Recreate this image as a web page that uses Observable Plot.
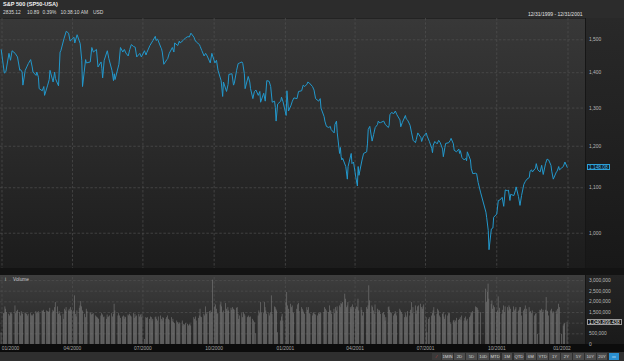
<!DOCTYPE html>
<html>
<head>
<meta charset="utf-8">
<script src="https://cdn.jsdelivr.net/npm/d3@7"></script>
<script src="https://cdn.jsdelivr.net/npm/@observablehq/plot@0.6"></script>
<style>
  html, body { margin:0; padding:0; background:#2c2c2c; }
  #root { position:relative; width:624px; height:361px; overflow:hidden; background:#2c2c2c; font-family:"Liberation Sans", Arial, sans-serif; }
  .abs { position:absolute; }
  #pricePane { left:0; top:18px; width:585px; height:250px; background:linear-gradient(#383838, #1c1c1c); border-top:1px solid #232323; box-sizing:border-box; }
  #priceAxisBg { left:585px; top:18px; width:39px; height:250px; background:linear-gradient(#292929, #181818); border-left:1px solid #161616; box-sizing:border-box; }
  #sep { left:0; top:268px; width:624px; height:7px; background:#131313; }
  #volPane { left:0; top:275px; width:585px; height:69px; background:linear-gradient(#3e3e3e, #252525); }
  #volAxisBg { left:585px; top:275px; width:39px; height:69px; background:linear-gradient(#242424, #1a1a1a); border-left:1px solid #161616; box-sizing:border-box; }
  #dateStrip { left:0; top:344px; width:624px; height:8px; background:#0c0c0c; }
  #bottomBar { left:0; top:352px; width:624px; height:9px; background:#2f2f2f; }
  #priceSvg, #volSvg { left:0; }
  #priceSvg { top:18px; }
  #volSvg { top:275px; }
  .hdr1 { left:3px; top:1px; font-weight:bold; font-size:5.6px; color:#f2f2f2; white-space:nowrap; }
  .hdr2 { top:10px; font-size:4.9px; color:#d8d8d8; white-space:nowrap; }
  .range { left:528px; top:10.5px; font-size:5px; color:#e0e0e0; white-space:nowrap; }
  .volTitle { left:13px; top:276.5px; font-size:4.8px; color:#c8c8c8; }
  .volIcon { left:5px; top:276.5px; font-size:4.8px; color:#c8c8c8; }
  .valBox { position:absolute; font-size:4.8px; line-height:5px; padding:0.5px 1px; box-sizing:border-box; white-space:nowrap; }
  #buttons { position:absolute; left:432px; top:353px; height:7px; display:flex; gap:1.3px; }
  #buttons div { height:7px; background:#4c4c4c; color:#d8d8d8; font-size:4.3px; line-height:7px; text-align:center; }
</style>
</head>
<body>
<div id="root">
  <div class="abs" id="pricePane"></div>
  <div class="abs" id="priceAxisBg"></div>
  <div class="abs" id="sep"></div>
  <div class="abs" id="volPane"></div>
  <div class="abs" id="volAxisBg"></div>
  <div class="abs" id="dateStrip"></div>
  <div class="abs" id="bottomBar"></div>
  <div class="abs hdr1">S&amp;P 500 (SP50-USA)</div>
  <div class="abs hdr2" style="left:3px">2835.12</div>
  <div class="abs hdr2" style="left:27px">10.89</div>
  <div class="abs hdr2" style="left:42.5px">0.39%</div>
  <div class="abs hdr2" style="left:60.5px">10:38:10 AM</div>
  <div class="abs hdr2" style="left:93px">USD</div>
  <div class="abs range">12/31/1999 - 12/31/2001</div>
  <div class="abs volIcon">i</div>
  <div class="abs volTitle">Volume</div>
  <div id="buttons"></div>
</div>
<script>
// ---------- data ----------
const priceTicks = [1000, 1100, 1200, 1300, 1400, 1500];
const volumeTicks = [0, 500, 1500, 2000, 2500, 3000];          // millions of shares (shown in thousands)
const volumeGrid = [500, 1000, 1500, 2000, 2500, 3000];
const quarterTicks = ["2000-01-01","2000-04-01","2000-07-01","2000-10-01","2001-01-01","2001-04-01","2001-07-01","2001-10-01","2002-01-01"];
const rangeButtons = ["1MIN","2D","5D","10D","MTD","1M","QTD","6M","YTD","1Y","2Y","5Y","10Y","20Y"];
const holidays = ["2000-01-17","2000-02-21","2000-04-21","2000-05-29","2000-07-04","2000-09-04","2000-11-23","2000-12-25",
  "2001-01-01","2001-01-15","2001-02-19","2001-04-13","2001-05-28","2001-07-04","2001-09-03","2001-09-11","2001-09-12",
  "2001-09-13","2001-09-14","2001-11-22","2001-12-25"];

// S&P 500 closes
const priceSeries = [
["1999-12-31",1469],["2000-01-04",1399],["2000-01-06",1403],["2000-01-10",1458],["2000-01-12",1437],["2000-01-14",1466],
["2000-01-18",1458],["2000-01-21",1447],["2000-01-24",1407],["2000-01-25",1409],["2000-01-27",1402],["2000-01-28",1364],
["2000-01-31",1407],["2000-02-02",1417],["2000-02-04",1427],["2000-02-07",1439],["2000-02-09",1417],["2000-02-10",1402],
["2000-02-14",1392],["2000-02-15",1402],["2000-02-17",1387],["2000-02-18",1354],["2000-02-22",1348],["2000-02-24",1360],
["2000-02-25",1335],["2000-02-29",1364],["2000-03-02",1380],["2000-03-03",1407],["2000-03-07",1373],["2000-03-09",1402],
["2000-03-10",1383],["2000-03-14",1362],["2000-03-16",1462],["2000-03-17",1466],["2000-03-21",1503],["2000-03-24",1527],
["2000-03-27",1521],["2000-03-29",1496],["2000-04-03",1508],["2000-04-04",1490],["2000-04-07",1516],["2000-04-11",1488],
["2000-04-13",1437],["2000-04-14",1360],["2000-04-18",1439],["2000-04-19",1429],["2000-04-24",1432],["2000-04-26",1476],
["2000-04-28",1462],["2000-05-02",1470],["2000-05-04",1417],["2000-05-08",1432],["2000-05-09",1412],["2000-05-10",1385],
["2000-05-12",1437],["2000-05-16",1466],["2000-05-18",1442],["2000-05-22",1407],["2000-05-24",1377],["2000-05-25",1397],
["2000-05-26",1380],["2000-05-31",1425],["2000-06-02",1476],["2000-06-05",1462],["2000-06-07",1470],["2000-06-09",1459],
["2000-06-12",1450],["2000-06-14",1470],["2000-06-16",1485],["2000-06-19",1479],["2000-06-21",1477],["2000-06-23",1447],
["2000-06-27",1458],["2000-06-29",1447],["2000-07-03",1466],["2000-07-05",1453],["2000-07-06",1460],["2000-07-10",1482],
["2000-07-12",1490],["2000-07-14",1498],["2000-07-17",1511],["2000-07-18",1498],["2000-07-20",1502],["2000-07-24",1477],
["2000-07-25",1472],["2000-07-26",1462],["2000-07-28",1425],["2000-08-01",1439],["2000-08-02",1442],["2000-08-04",1458],
["2000-08-08",1476],["2000-08-10",1462],["2000-08-11",1490],["2000-08-15",1482],["2000-08-17",1496],["2000-08-18",1490],
["2000-08-22",1498],["2000-08-25",1506],["2000-08-28",1510],["2000-08-30",1509],["2000-09-01",1521],["2000-09-05",1508],
["2000-09-06",1500],["2000-09-08",1493],["2000-09-12",1485],["2000-09-13",1479],["2000-09-15",1467],["2000-09-18",1450],
["2000-09-20",1458],["2000-09-22",1450],["2000-09-26",1429],["2000-09-28",1458],["2000-10-02",1429],["2000-10-04",1437],
["2000-10-06",1407],["2000-10-10",1377],["2000-10-12",1332],["2000-10-13",1373],["2000-10-17",1346],["2000-10-19",1366],
["2000-10-20",1395],["2000-10-24",1397],["2000-10-26",1364],["2000-10-27",1369],["2000-10-30",1407],["2000-11-01",1427],
["2000-11-03",1429],["2000-11-06",1432],["2000-11-07",1427],["2000-11-09",1397],["2000-11-10",1354],["2000-11-14",1389],
["2000-11-16",1373],["2000-11-17",1354],["2000-11-20",1326],["2000-11-22",1346],["2000-11-24",1350],["2000-11-27",1335],
["2000-11-29",1346],["2000-11-30",1316],["2000-12-04",1341],["2000-12-06",1319],["2000-12-08",1377],["2000-12-11",1375],
["2000-12-13",1360],["2000-12-15",1316],["2000-12-18",1319],["2000-12-19",1302],["2000-12-20",1265],["2000-12-22",1311],
["2000-12-26",1319],["2000-12-27",1330],["2000-12-29",1317],["2001-01-02",1280],["2001-01-03",1348],["2001-01-05",1292],
["2001-01-08",1306],["2001-01-10",1319],["2001-01-12",1328],["2001-01-16",1326],["2001-01-18",1346],["2001-01-22",1348],
["2001-01-24",1364],["2001-01-26",1360],["2001-01-29",1367],["2001-01-30",1373],["2001-02-01",1370],["2001-02-05",1360],
["2001-02-07",1350],["2001-02-09",1326],["2001-02-13",1319],["2001-02-15",1326],["2001-02-16",1300],["2001-02-20",1277],
["2001-02-21",1265],["2001-02-23",1251],["2001-02-26",1248],["2001-02-28",1251],["2001-03-01",1243],["2001-03-05",1234],
["2001-03-06",1256],["2001-03-08",1265],["2001-03-09",1234],["2001-03-12",1182],["2001-03-13",1197],["2001-03-14",1174],
["2001-03-15",1166],["2001-03-16",1170],["2001-03-20",1150],["2001-03-22",1120],["2001-03-23",1150],["2001-03-27",1182],
["2001-03-28",1157],["2001-03-30",1161],["2001-04-02",1124],["2001-04-04",1104],["2001-04-05",1150],["2001-04-06",1129],
["2001-04-10",1166],["2001-04-12",1182],["2001-04-16",1186],["2001-04-17",1206],["2001-04-18",1243],["2001-04-20",1251],
["2001-04-23",1213],["2001-04-25",1230],["2001-04-27",1248],["2001-04-30",1256],["2001-05-01",1265],["2001-05-03",1260],
["2001-05-04",1261],["2001-05-08",1265],["2001-05-10",1256],["2001-05-14",1248],["2001-05-15",1254],["2001-05-16",1282],
["2001-05-18",1288],["2001-05-21",1285],["2001-05-23",1292],["2001-05-25",1282],["2001-05-29",1268],["2001-05-30",1250],
["2001-06-01",1261],["2001-06-05",1280],["2001-06-06",1271],["2001-06-08",1267],["2001-06-11",1254],["2001-06-13",1234],
["2001-06-15",1215],["2001-06-18",1209],["2001-06-19",1217],["2001-06-21",1234],["2001-06-25",1222],["2001-06-26",1212],
["2001-06-28",1224],["2001-07-02",1234],["2001-07-03",1226],["2001-07-06",1212],["2001-07-09",1195],["2001-07-10",1184],
["2001-07-11",1203],["2001-07-13",1212],["2001-07-16",1206],["2001-07-18",1215],["2001-07-20",1209],["2001-07-23",1193],
["2001-07-24",1174],["2001-07-26",1197],["2001-07-27",1207],["2001-07-31",1209],["2001-08-02",1215],["2001-08-03",1220],
["2001-08-06",1206],["2001-08-07",1190],["2001-08-10",1186],["2001-08-13",1193],["2001-08-14",1182],["2001-08-15",1189],
["2001-08-17",1172],["2001-08-20",1166],["2001-08-22",1170],["2001-08-23",1164],["2001-08-24",1186],["2001-08-28",1166],
["2001-08-29",1146],["2001-08-31",1133],["2001-09-04",1134],["2001-09-05",1133],["2001-09-07",1112],["2001-09-10",1090],
["2001-09-17",1045],["2001-09-18",1033],["2001-09-20",1006],["2001-09-21",966],["2001-09-24",1009],["2001-09-26",1011],
["2001-09-27",1034],["2001-10-01",1041],["2001-10-03",1071],["2001-10-05",1072],["2001-10-08",1078],["2001-10-10",1058],
["2001-10-12",1095],["2001-10-15",1093],["2001-10-16",1095],["2001-10-18",1071],["2001-10-19",1085],["2001-10-23",1082],
["2001-10-25",1093],["2001-10-26",1102],["2001-10-29",1080],["2001-10-31",1060],["2001-11-02",1082],["2001-11-05",1108],
["2001-11-07",1115],["2001-11-09",1120],["2001-11-12",1124],["2001-11-13",1139],["2001-11-15",1142],["2001-11-16",1137],
["2001-11-20",1146],["2001-11-21",1157],["2001-11-23",1142],["2001-11-26",1137],["2001-11-28",1153],["2001-11-30",1131],
["2001-12-03",1157],["2001-12-05",1168],["2001-12-07",1166],["2001-12-10",1153],["2001-12-11",1139],["2001-12-13",1120],
["2001-12-17",1137],["2001-12-18",1139],["2001-12-20",1150],["2001-12-21",1142],["2001-12-24",1147],["2001-12-26",1150],
["2001-12-28",1161],["2001-12-31",1148.08]
];

// daily volume, millions of shares, one value per trading day
const volume1999 = [550];
const volume2000 = [
1446,1446,1761,1651,1493,1415,1336,1446,1493,1415,1808,1446,1541,1603,1493,1336,1541,1446,1415,1478,
1446,1415,1336,1415,1446,1336,1383,1336,1415,1541,1446,1493,1541,1446,1572,1541,1603,1493,1572,1541,
1493,1541,1698,1446,1603,1541,1729,1965,1761,1415,1541,1446,1336,1415,1179,1651,1572,1729,1572,1651,1541,1729,1603,
1572,2279,1415,1289,1572,1698,1808,2012,1761,1572,1415,1258,1651,1541,1493,1446,1383,1415,1446,
1336,1289,1258,1226,1179,1336,1446,1383,1258,1289,1179,1383,1258,1289,1336,1446,1289,1415,1886,1572,1336,1446,
1336,1226,1289,1336,1179,1289,1258,1383,1336,1415,1336,1289,1446,1226,1415,1289,1336,1415,1289,1383,1258,1415,
236,1258,1226,1258,1179,1289,1258,1100,1179,1258,1289,1179,1100,1289,1336,1179,1100,1258,1226,1179,
1258,1336,1179,1132,1258,1069,1179,1022,975,1100,1022,943,1022,975,1100,865,943,912,975,943,865,912,943,
865,1258,1179,1289,1100,1226,1336,1651,1289,1258,1415,1336,1761,1415,1493,1541,1446,1572,1493,3018,
1761,1855,1651,1415,1446,1855,1965,1761,1493,1572,1918,1651,1541,1729,1572,1698,1603,1729,1651,1603,1698,1729,
1415,1179,1336,1446,1258,1493,1415,1336,1258,1289,1336,1258,1289,1179,1100,1022,503,1336,1572,1446,1965,
1493,1446,1965,1729,1572,1415,1446,1336,1493,2279,1415,1761,1729,1651,1572,550,1100,1289,1415,1100
];
const volume2001 = [
1965,2437,1808,1651,1886,1729,1808,1493,1446,1651,1855,1918,1541,1729,1651,1572,1493,1415,1729,1603,1729,
1446,1415,1336,1446,1493,1415,1383,1336,1446,1415,1493,1446,1493,1729,1651,1572,1493,1808,1572,
1572,1415,1651,1446,1729,1572,1761,1808,1729,1918,1886,1965,2358,2122,1729,1808,1965,1729,1651,1761,1855,1729,
1651,1761,1729,2122,1572,1729,1603,1336,1493,1729,1651,1808,2751,2044,1808,1729,1572,1415,1855,1651,
1493,1603,1572,1415,1446,1493,1383,1100,1258,1729,1761,1603,1493,1446,1336,1415,1541,1446,1336,1651,1572,1493,
1415,1258,1446,1336,1258,1541,1336,1603,1965,1446,1729,1808,1415,1572,1761,1808,1886,1729,1651,1761,1855,
1258,550,1179,1258,1336,1446,1572,1729,1336,1415,1651,1572,1336,1258,1415,1493,1289,1179,1383,1336,1446,
1446,1022,943,1100,1132,1022,1100,1226,1132,1179,1258,1132,1336,1100,1226,1289,1100,1179,1258,1336,1446,1493,1541,
1761,1729,1698,1603,1493,2594,1965,2437,2830,2122,1886,2044,1651,1808,1729,
1493,1572,2232,1493,1698,1415,1603,1808,1493,1761,1729,1572,1808,1729,1651,1493,1761,1572,1651,1729,1541,1603,1729,
1729,1336,1572,1651,1808,1415,1651,1729,1493,1541,1446,1572,1336,1415,1446,472,1603,1572,1651,1493,1603,
1603,2201,1572,1541,1336,1572,1651,1446,1541,1493,1572,1415,1651,1886,1729,472,865,943,975,1040.899438
];

// ---------- build ----------
const parse = d3.utcParse("%Y-%m-%d");
const fmtDay = d3.utcFormat("%Y-%m-%d");
const quarters = quarterTicks.map(parse);
const xDomain = [new Date("1999-12-30T01:30:00Z"), new Date("2002-01-23T14:30:00Z")];

const prices = priceSeries.map(([d, v]) => ({date: parse(d), close: v}));
const tradingDays = d3.utcDays(parse("1999-12-31"), parse("2002-01-01"))
  .filter(d => d.getUTCDay() % 6 !== 0 && !holidays.includes(fmtDay(d)));
const volumes = [...volume1999, ...volume2000, ...volume2001];
const n = Math.min(tradingDays.length, volumes.length);
const volData = d3.range(n).map(i => ({date: tradingDays[i], volume: volumes[i]}));

const dash = {stroke: "#505050", strokeWidth: 0.7, strokeDasharray: "2.5,1.8"};
const axisText = {fill: "#b8b8b8", fontSize: 4.9};
const dateText = {anchor: "bottom", tickSize: 0, tickPadding: 2.5, tickFormat: d3.utcFormat("%m/%Y"), label: null, fill: "#a8a8a8", fontSize: 4.9};

const priceChart = Plot.plot({
  width: 624, height: 250,
  marginLeft: 0, marginRight: 39, marginTop: 0, marginBottom: 0,
  style: {background: "transparent", fontFamily: "Liberation Sans, Arial, sans-serif", overflow: "visible"},
  x: {type: "utc", domain: xDomain, axis: null},
  y: {type: "log", domain: [928.7, 1568.5], axis: null},
  marks: [
    Plot.ruleY(priceTicks, {...dash, x1: xDomain[0], x2: xDomain[1]}),
    Plot.ruleX(quarters, {...dash}),
    Plot.line(prices, {x: "date", y: "close", stroke: "#2298cc", strokeWidth: 1}),
    Plot.axisY(priceTicks, {anchor: "right", tickSize: 0, tickPadding: 3.5, tickFormat: d3.format(","), label: null, ...axisText})
  ]
});
priceChart.classList.add("abs");
priceChart.id = "priceSvg";

const volChart = Plot.plot({
  width: 624, height: 77,
  marginLeft: 0, marginRight: 39, marginTop: 0, marginBottom: 8,
  style: {background: "transparent", fontFamily: "Liberation Sans, Arial, sans-serif", overflow: "visible"},
  x: {type: "utc", domain: xDomain, axis: null},
  y: {domain: [0, 3234], axis: null},
  marks: [
    Plot.ruleY(volumeGrid, {...dash, x1: xDomain[0], x2: xDomain[1]}),
    Plot.ruleX(quarters, {...dash, y1: 0, y2: 3234}),
    Plot.rectY(volData, {x1: "date", x2: d => d3.utcHour.offset(d.date, 19), y: "volume", fill: "#7a7a7a"}),
    Plot.axisY(volumeTicks, {anchor: "right", tickSize: 0, tickPadding: 3.5, tickFormat: v => d3.format(",")(v * 1000), label: null, ...axisText}),
    Plot.axisX(quarters.slice(0, 1), {...dateText, dx: 8.5}),
    Plot.axisX(quarters.slice(1, -1), {...dateText}),
    Plot.axisX(quarters.slice(-1), {...dateText, dx: -6})
  ]
});
volChart.classList.add("abs");
volChart.id = "volSvg";

const root = document.getElementById("root");
root.insertBefore(priceChart, document.querySelector(".hdr1"));
root.insertBefore(volChart, document.querySelector(".hdr1"));

// last-value boxes, positioned through the charts' own scales
const last = prices[prices.length - 1];
const py = priceChart.scale("y").apply(last.close) + 18;
const pBox = document.createElement("div");
pBox.className = "valBox";
pBox.textContent = d3.format(",.2f")(last.close);
Object.assign(pBox.style, {left: "587px", top: (py - 3.2) + "px", height: "6.4px", border: "0.8px solid #2aa0d8", background: "#0f2430", color: "#49b8ec"});
root.appendChild(pBox);

const lastVol = volData[volData.length - 1].volume;
const vy = volChart.scale("y").apply(lastVol) + 275;
const vBox = document.createElement("div");
vBox.className = "valBox";
vBox.textContent = d3.format(",")(Math.round(lastVol * 1e6));
Object.assign(vBox.style, {left: "587px", top: (vy - 3.2) + "px", height: "6.4px", border: "0.8px solid #9a9a9a", background: "#151515", color: "#e8e8e8"});
root.appendChild(vBox);

// range buttons
const bar = document.getElementById("buttons");
const icon = document.createElement("div");
icon.style.width = "9px"; icon.style.background = "#3a3a3a"; icon.style.color = "#d04040"; icon.textContent = "⁄";
bar.appendChild(icon);
rangeButtons.forEach(label => {
  const b = document.createElement("div");
  b.style.width = "10.6px";
  b.textContent = label;
  bar.appendChild(b);
});
const sel = document.createElement("div");
sel.style.width = "10px"; sel.style.background = "#2a8fd0"; sel.style.color = "#e8f4ff"; sel.textContent = "▭";
bar.appendChild(sel);
</script>
</body>
</html>
